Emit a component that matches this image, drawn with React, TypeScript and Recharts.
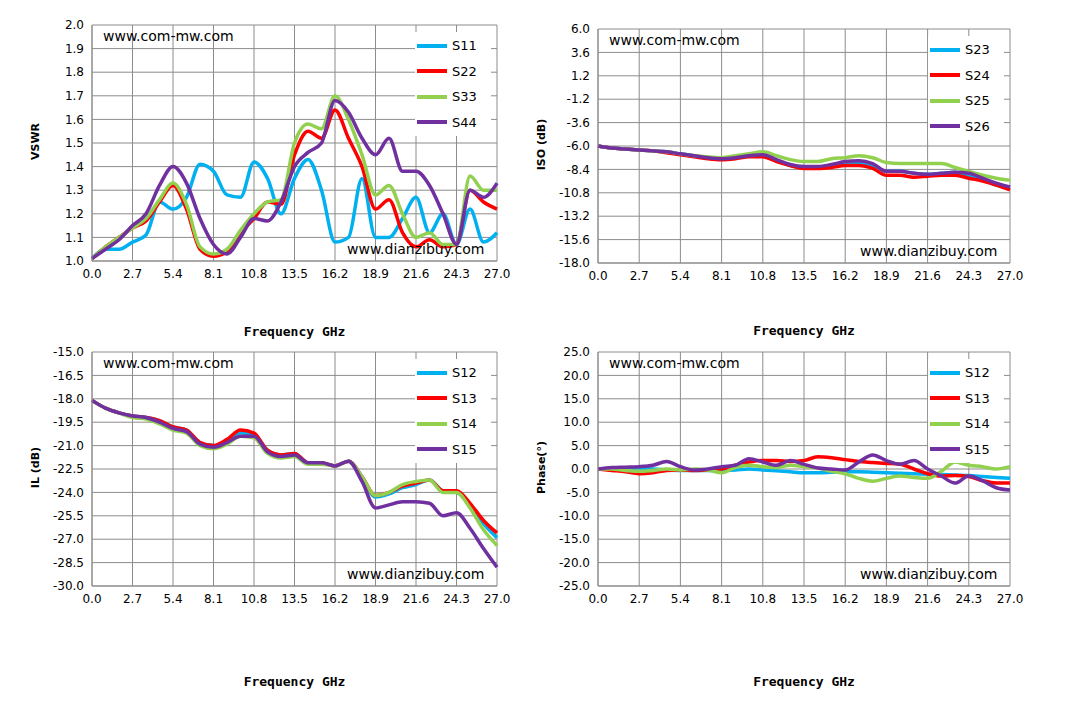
import { CartesianGrid, Line, LineChart, XAxis, YAxis } from "recharts";

const freq = [0, 0.9, 1.8, 2.7, 3.6, 4.5, 5.4, 6.3, 7.2, 8.1, 9.0, 9.9, 10.8, 11.7, 12.6, 13.5, 14.4, 15.3, 16.2, 17.1, 18.0, 18.9, 19.8, 20.7, 21.6, 22.5, 23.4, 24.3, 25.2, 26.1, 27.0];
const freqTicks = [0, 2.7, 5.4, 8.1, 10.8, 13.5, 16.2, 18.9, 21.6, 24.3, 27.0];

const s11 = [1.01, 1.05, 1.05, 1.08, 1.11, 1.25, 1.22, 1.27, 1.41, 1.38, 1.28, 1.27, 1.42, 1.35, 1.2, 1.35, 1.43, 1.3, 1.08, 1.1, 1.35, 1.1, 1.1, 1.18, 1.27, 1.12, 1.2, 1.07, 1.22, 1.08, 1.12];
const s22 = [1.01, 1.06, 1.1, 1.14, 1.17, 1.25, 1.32, 1.22, 1.05, 1.02, 1.04, 1.12, 1.18, 1.25, 1.24, 1.45, 1.55, 1.52, 1.64, 1.52, 1.4, 1.22, 1.26, 1.12, 1.06, 1.09, 1.06, 1.07, 1.3, 1.25, 1.22];
const s33 = [1.01, 1.06, 1.1, 1.14, 1.18, 1.26, 1.33, 1.24, 1.06, 1.03, 1.05, 1.13, 1.2, 1.25, 1.26, 1.5, 1.58, 1.56, 1.7, 1.6, 1.45, 1.28, 1.32, 1.2, 1.1, 1.12, 1.07, 1.07, 1.36, 1.3, 1.3];
const s44 = [1.01, 1.05, 1.09, 1.15, 1.2, 1.32, 1.4, 1.33, 1.18, 1.07, 1.03, 1.1, 1.18, 1.17, 1.25, 1.4, 1.46, 1.5, 1.68, 1.63, 1.52, 1.45, 1.52, 1.38, 1.38, 1.32, 1.2, 1.07, 1.3, 1.27, 1.33];
const vswrTicks = [1.0, 1.1, 1.2, 1.3, 1.4, 1.5, 1.6, 1.7, 1.8, 1.9, 2.0];

const s23 = [-6.0, -6.2, -6.3, -6.4, -6.5, -6.6, -6.8, -7.0, -7.2, -7.3, -7.2, -7.0, -7.0, -7.5, -8.0, -8.2, -8.2, -8.0, -7.9, -7.7, -8.0, -8.6, -8.6, -8.8, -8.9, -8.8, -8.7, -9.0, -9.5, -10.0, -10.3];
const s24 = [-6.0, -6.2, -6.3, -6.4, -6.5, -6.7, -6.9, -7.1, -7.3, -7.4, -7.3, -7.1, -7.1, -7.6, -8.0, -8.3, -8.3, -8.2, -8.0, -8.0, -8.3, -9.0, -9.0, -9.2, -9.1, -9.0, -9.0, -9.3, -9.6, -10.0, -10.5];
const s25 = [-6.0, -6.2, -6.3, -6.4, -6.5, -6.6, -6.8, -7.0, -7.1, -7.2, -7.0, -6.8, -6.6, -7.0, -7.4, -7.6, -7.6, -7.3, -7.2, -7.0, -7.2, -7.7, -7.8, -7.8, -7.8, -7.8, -8.2, -8.6, -9.0, -9.3, -9.5];
const s26 = [-6.0, -6.2, -6.3, -6.4, -6.5, -6.6, -6.8, -7.0, -7.2, -7.3, -7.2, -7.0, -6.9, -7.4, -7.9, -8.1, -8.1, -7.9, -7.6, -7.5, -7.8, -8.6, -8.6, -8.8, -8.9, -8.8, -8.7, -8.8, -9.3, -9.8, -10.2];
const isoTicks = [6.0, 3.6, 1.2, -1.2, -3.6, -6.0, -8.4, -10.8, -13.2, -15.6, -18.0];

const s12 = [-18.1, -18.6, -18.9, -19.1, -19.2, -19.4, -19.8, -20.0, -20.8, -21.0, -20.7, -20.2, -20.3, -21.3, -21.6, -21.5, -22.1, -22.1, -22.3, -22.0, -23.0, -24.3, -24.1, -23.7, -23.5, -23.2, -23.9, -24.0, -24.8, -26.0, -26.9];
const s13 = [-18.1, -18.6, -18.9, -19.1, -19.2, -19.4, -19.8, -20.0, -20.8, -21.0, -20.6, -20.0, -20.2, -21.3, -21.6, -21.5, -22.1, -22.1, -22.3, -22.0, -23.0, -24.2, -24.0, -23.6, -23.4, -23.2, -23.9, -23.9, -24.7, -25.8, -26.6];
const s14 = [-18.1, -18.6, -18.9, -19.2, -19.3, -19.6, -20.0, -20.2, -21.0, -21.2, -20.9, -20.4, -20.5, -21.5, -21.8, -21.7, -22.2, -22.2, -22.3, -22.0, -23.0, -24.2, -24.0, -23.5, -23.3, -23.2, -24.0, -24.0, -25.0, -26.4, -27.4];
const s15 = [-18.1, -18.6, -18.9, -19.1, -19.2, -19.5, -19.9, -20.1, -20.9, -21.1, -20.8, -20.4, -20.4, -21.4, -21.7, -21.6, -22.1, -22.1, -22.3, -22.0, -23.3, -25.0, -24.8, -24.6, -24.6, -24.7, -25.5, -25.3, -26.3, -27.6, -28.8];
const ilTicks = [-15.0, -16.5, -18.0, -19.5, -21.0, -22.5, -24.0, -25.5, -27.0, -28.5, -30.0];

const p12 = [0, 0.1, 0.2, 0.2, 0, -0.2, -0.3, -0.3, -0.3, -0.3, -0.2, 0, -0.2, -0.4, -0.6, -0.8, -0.8, -0.7, -0.6, -0.6, -0.7, -0.8, -0.9, -1.0, -1.1, -1.2, -1.3, -1.4, -1.6, -1.8, -2.0];
const p13 = [0, -0.3, -0.6, -1.0, -0.8, -0.3, -0.2, -0.3, -0.2, 0, 0.8, 1.5, 1.8, 1.8, 1.6, 1.8, 2.6, 2.4, 2.0, 1.6, 1.4, 1.2, 1.0, 0, -1.0, -1.5, -1.4, -1.6, -2.5, -3.0, -3.0];
const p14 = [0, 0, -0.3, -0.5, -0.3, 0, -0.2, 0, -0.2, -0.8, 0.3, 0.8, 0.5, 0.3, 0.8, 0.5, 0.2, -0.5, -1.0, -2.0, -2.6, -2.0, -1.5, -1.8, -2.0, -0.5, 1.5, 0.8, 0.5, 0, 0.5];
const p15 = [0, 0.3, 0.4, 0.5, 0.8, 1.6, 0.5, -0.2, 0, 0.5, 0.8, 2.2, 1.5, 0.8, 1.8, 1.0, 0.2, 0, -0.2, 1.5, 3.0, 1.8, 1.0, 1.8, 0, -1.5, -3.0, -1.5, -2.5, -4.0, -4.5];
const phaseTicks = [25, 20, 15, 10, 5, 0, -5, -10, -15, -20, -25];

const colors = ["#00b0f0", "#ff0000", "#92d050", "#7030a0"];
const font = "'DejaVu Sans', Verdana, sans-serif";

type PanelProps = {
  left: number;
  top: number;
  width: number;
  margin: { top: number; right: number; bottom: number; left: number };
  names: string[];
  series: number[][];
  ticks: number[];
  yTitle: string;
  yTitleX: number;
  xTitleY: number;
};

function Panel(p: PanelProps) {
  const data = freq.map((f, i) => {
    const row: Record<string, number> = { f };
    p.names.forEach((n, k) => (row[n] = p.series[k][i]));
    return row;
  });
  const ymin = Math.min(...p.ticks);
  const ymax = Math.max(...p.ticks);
  const plotTop = p.top + p.margin.top;
  const plotBottom = p.top + 300 - p.margin.bottom - 30;
  const plotLeft = p.left + p.margin.left + 40;
  const plotRight = p.left + p.width - p.margin.right;
  return (
    <>
      <div style={{ position: "absolute", left: p.left, top: p.top }}>
        <LineChart width={p.width} height={300} data={data} margin={p.margin}>
          <CartesianGrid stroke="#8c8c8c" />
          <XAxis
            dataKey="f"
            type="number"
            domain={[0, 27]}
            ticks={freqTicks}
            tickFormatter={(v) => Number(v).toFixed(1)}
            stroke="#8c8c8c"
            tick={{ fill: "#000", fontSize: 12, fontFamily: font }}
            tickLine={false}
            height={30}
          />
          <YAxis
            type="number"
            domain={[ymin, ymax]}
            ticks={p.ticks}
            interval={0}
            tickFormatter={(v) => Number(v).toFixed(1)}
            stroke="#8c8c8c"
            tick={{ fill: "#000", fontSize: 12, fontFamily: font }}
            tickLine={false}
            width={40}
          />
          {p.names.map((n, k) => (
            <Line
              key={n}
              dataKey={n}
              type="monotone"
              stroke={colors[k]}
              strokeWidth={3.5}
              dot={false}
              isAnimationActive={false}
            />
          ))}
        </LineChart>
      </div>
      <div
        style={{
          position: "absolute",
          left: plotRight - 82,
          top: plotTop + 7,
          width: 76,
          background: "#fff",
          padding: "1px 0",
        }}
      >
        {p.names.map((n, k) => (
          <div key={n} style={{ display: "flex", alignItems: "center", height: 25.5, fontFamily: font, fontSize: 13 }}>
            <span style={{ display: "inline-block", width: 30, height: 4, background: colors[k], marginLeft: 2, marginRight: 5 }} />
            {n}
          </div>
        ))}
      </div>
      <div style={{ position: "absolute", left: plotLeft + 11, top: plotTop + 3, fontFamily: font, fontSize: 14 }}>
        www.com-mw.com
      </div>
      <div style={{ position: "absolute", left: plotRight - 150, top: plotBottom - 20, fontFamily: font, fontSize: 14 }}>
        www.dianzibuy.com
      </div>
      <div
        style={{
          position: "absolute",
          left: p.yTitleX - 50,
          top: (plotTop + plotBottom) / 2 - 8,
          width: 100,
          textAlign: "center",
          transform: "rotate(-90deg)",
          fontFamily: font,
          fontSize: 11,
          fontWeight: "bold",
        }}
      >
        {p.yTitle}
      </div>
      <div
        style={{
          position: "absolute",
          left: (plotLeft + plotRight) / 2 - 100,
          top: p.xTitleY - 9,
          width: 200,
          textAlign: "center",
          fontFamily: "'DejaVu Sans Mono', monospace",
          fontSize: 13,
          fontWeight: "bold",
        }}
      >
        Frequency GHz
      </div>
    </>
  );
}

export default function App() {
  return (
    <div style={{ position: "absolute", left: 0, top: 0, width: 1066, height: 713, background: "#fff" }}>
      <Panel
        left={0}
        top={0}
        width={530}
        margin={{ top: 25, right: 33, bottom: 9, left: 52 }}
        names={["S11", "S22", "S33", "S44"]}
        series={[s11, s22, s33, s44]}
        ticks={vswrTicks}
        yTitle="VSWR"
        yTitleX={35}
        xTitleY={333}
      />
      <Panel
        left={545}
        top={0}
        width={490}
        margin={{ top: 29, right: 25, bottom: 7, left: 13 }}
        names={["S23", "S24", "S25", "S26"]}
        series={[s23, s24, s25, s26]}
        ticks={isoTicks}
        yTitle="ISO (dB)"
        yTitleX={541}
        xTitleY={332}
      />
      <Panel
        left={0}
        top={327}
        width={530}
        margin={{ top: 25, right: 33, bottom: 11, left: 52 }}
        names={["S12", "S13", "S14", "S15"]}
        series={[s12, s13, s14, s15]}
        ticks={ilTicks}
        yTitle="IL (dB)"
        yTitleX={35}
        xTitleY={683}
      />
      <Panel
        left={545}
        top={327}
        width={490}
        margin={{ top: 25, right: 25, bottom: 11, left: 13 }}
        names={["S12", "S13", "S14", "S15"]}
        series={[p12, p13, p14, p15]}
        ticks={phaseTicks}
        yTitle="Phase(°)"
        yTitleX={541}
        xTitleY={683}
      />
    </div>
  );
}
